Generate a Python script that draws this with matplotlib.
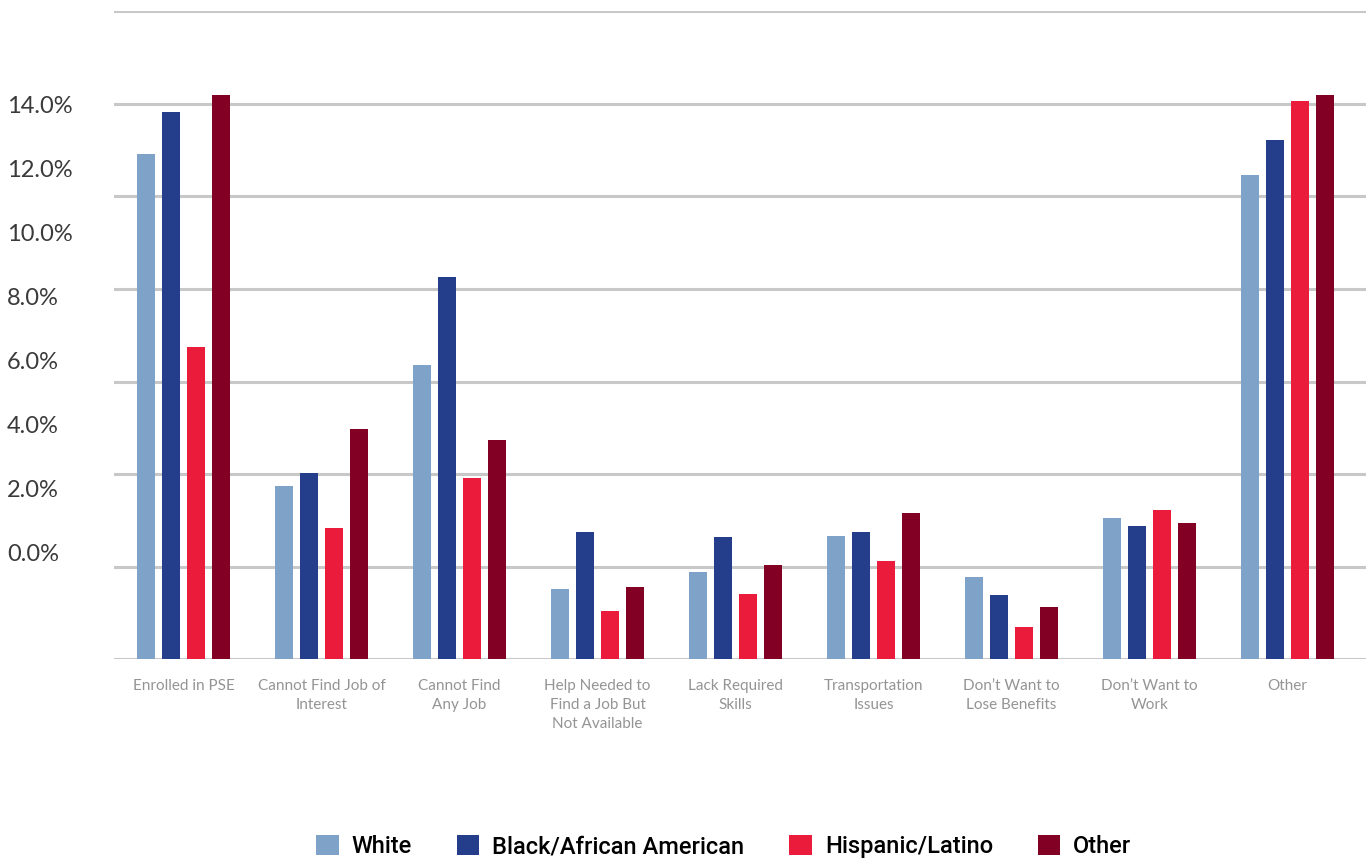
import matplotlib
matplotlib.use("Agg")
import matplotlib.pyplot as plt
import numpy as np
from matplotlib.patches import Patch

categories = [
    "Enrolled in PSE",
    "Cannot Find Job of\nInterest",
    "Cannot Find\nAny Job",
    "Help Needed to\nFind a Job But\nNot Available",
    "Lack Required\nSkills",
    "Transportation\nIssues",
    "Don\u2019t Want to\nLose Benefits",
    "Don\u2019t Want to\nWork",
    "Other",
]
groups = ["White", "Black/African American", "Hispanic/Latino", "Other"]

white = [10.91, 3.74, 6.36, 1.51, 1.89, 2.66, 1.78, 3.05, 10.47]
black = [11.82, 4.02, 8.26, 2.75, 2.64, 2.75, 1.39, 2.87, 11.21]
hispanic = [6.75, 2.84, 3.92, 1.04, 1.41, 2.12, 0.70, 3.22, 12.07]
other = [12.19, 4.97, 4.74, 1.56, 2.04, 3.16, 1.13, 2.94, 12.18]

label_ticks = [0, 2, 4, 6, 8, 10, 12, 14]

colors = ["#7fa3c8", "#253e8b", "#eb1b3b", "#830025"]

fig = plt.figure(figsize=(13.66, 8.63), dpi=100)
ax = fig.add_axes([0.0835, 0.236, 0.9165, 0.751])

x = np.arange(len(categories))
width = 0.13
step = 0.181
for i, (vals, c) in enumerate(zip([white, black, hispanic, other], colors)):
    ax.bar(x + (i - 1.5) * step, vals, width, color=c, zorder=3)

ax.set_xlim(-0.504, 8.57)
ax.set_ylim(0, 14)
ax.set_yticks(range(0, 15, 2))
ax.grid(axis="y", color="#c8c8c8", linewidth=2.2, zorder=0)
ax.set_axisbelow(True)
for s in ax.spines.values():
    s.set_visible(False)
ax.set_xticks(x)
ax.set_xticklabels(categories, fontsize=11, color="#949494", family="Lato",
                   linespacing=1.45)
ax.tick_params(axis="x", length=0, pad=14)

# value labels sit on their own scale, offset from the gridlines
lab = ax.twinx()
lab.set_ylim(-3.33, 16.93)
lab.set_yticks(label_ticks)
lab.set_yticklabels([f"{t:.1f}%" for t in label_ticks], fontsize=17,
                    color="#3a3a3a", family="Lato", ha="left")
lab.yaxis.tick_left()
lab.tick_params(axis="y", length=0, pad=77)
for s in lab.spines.values():
    s.set_visible(False)
ax.tick_params(axis="y", left=False, right=False, labelleft=False, labelright=False)

handles = [Patch(facecolor=c, edgecolor="none") for c in colors]
fig.legend(handles, groups, loc="center", bbox_to_anchor=(0.53, 0.019),
           ncol=4, frameon=False,
           prop={"family": "Roboto", "size": 17, "weight": "medium"},
           handlelength=0.95, handleheight=0.95, handletextpad=0.55, columnspacing=1.9)

fig.savefig("out.png", dpi=100)
